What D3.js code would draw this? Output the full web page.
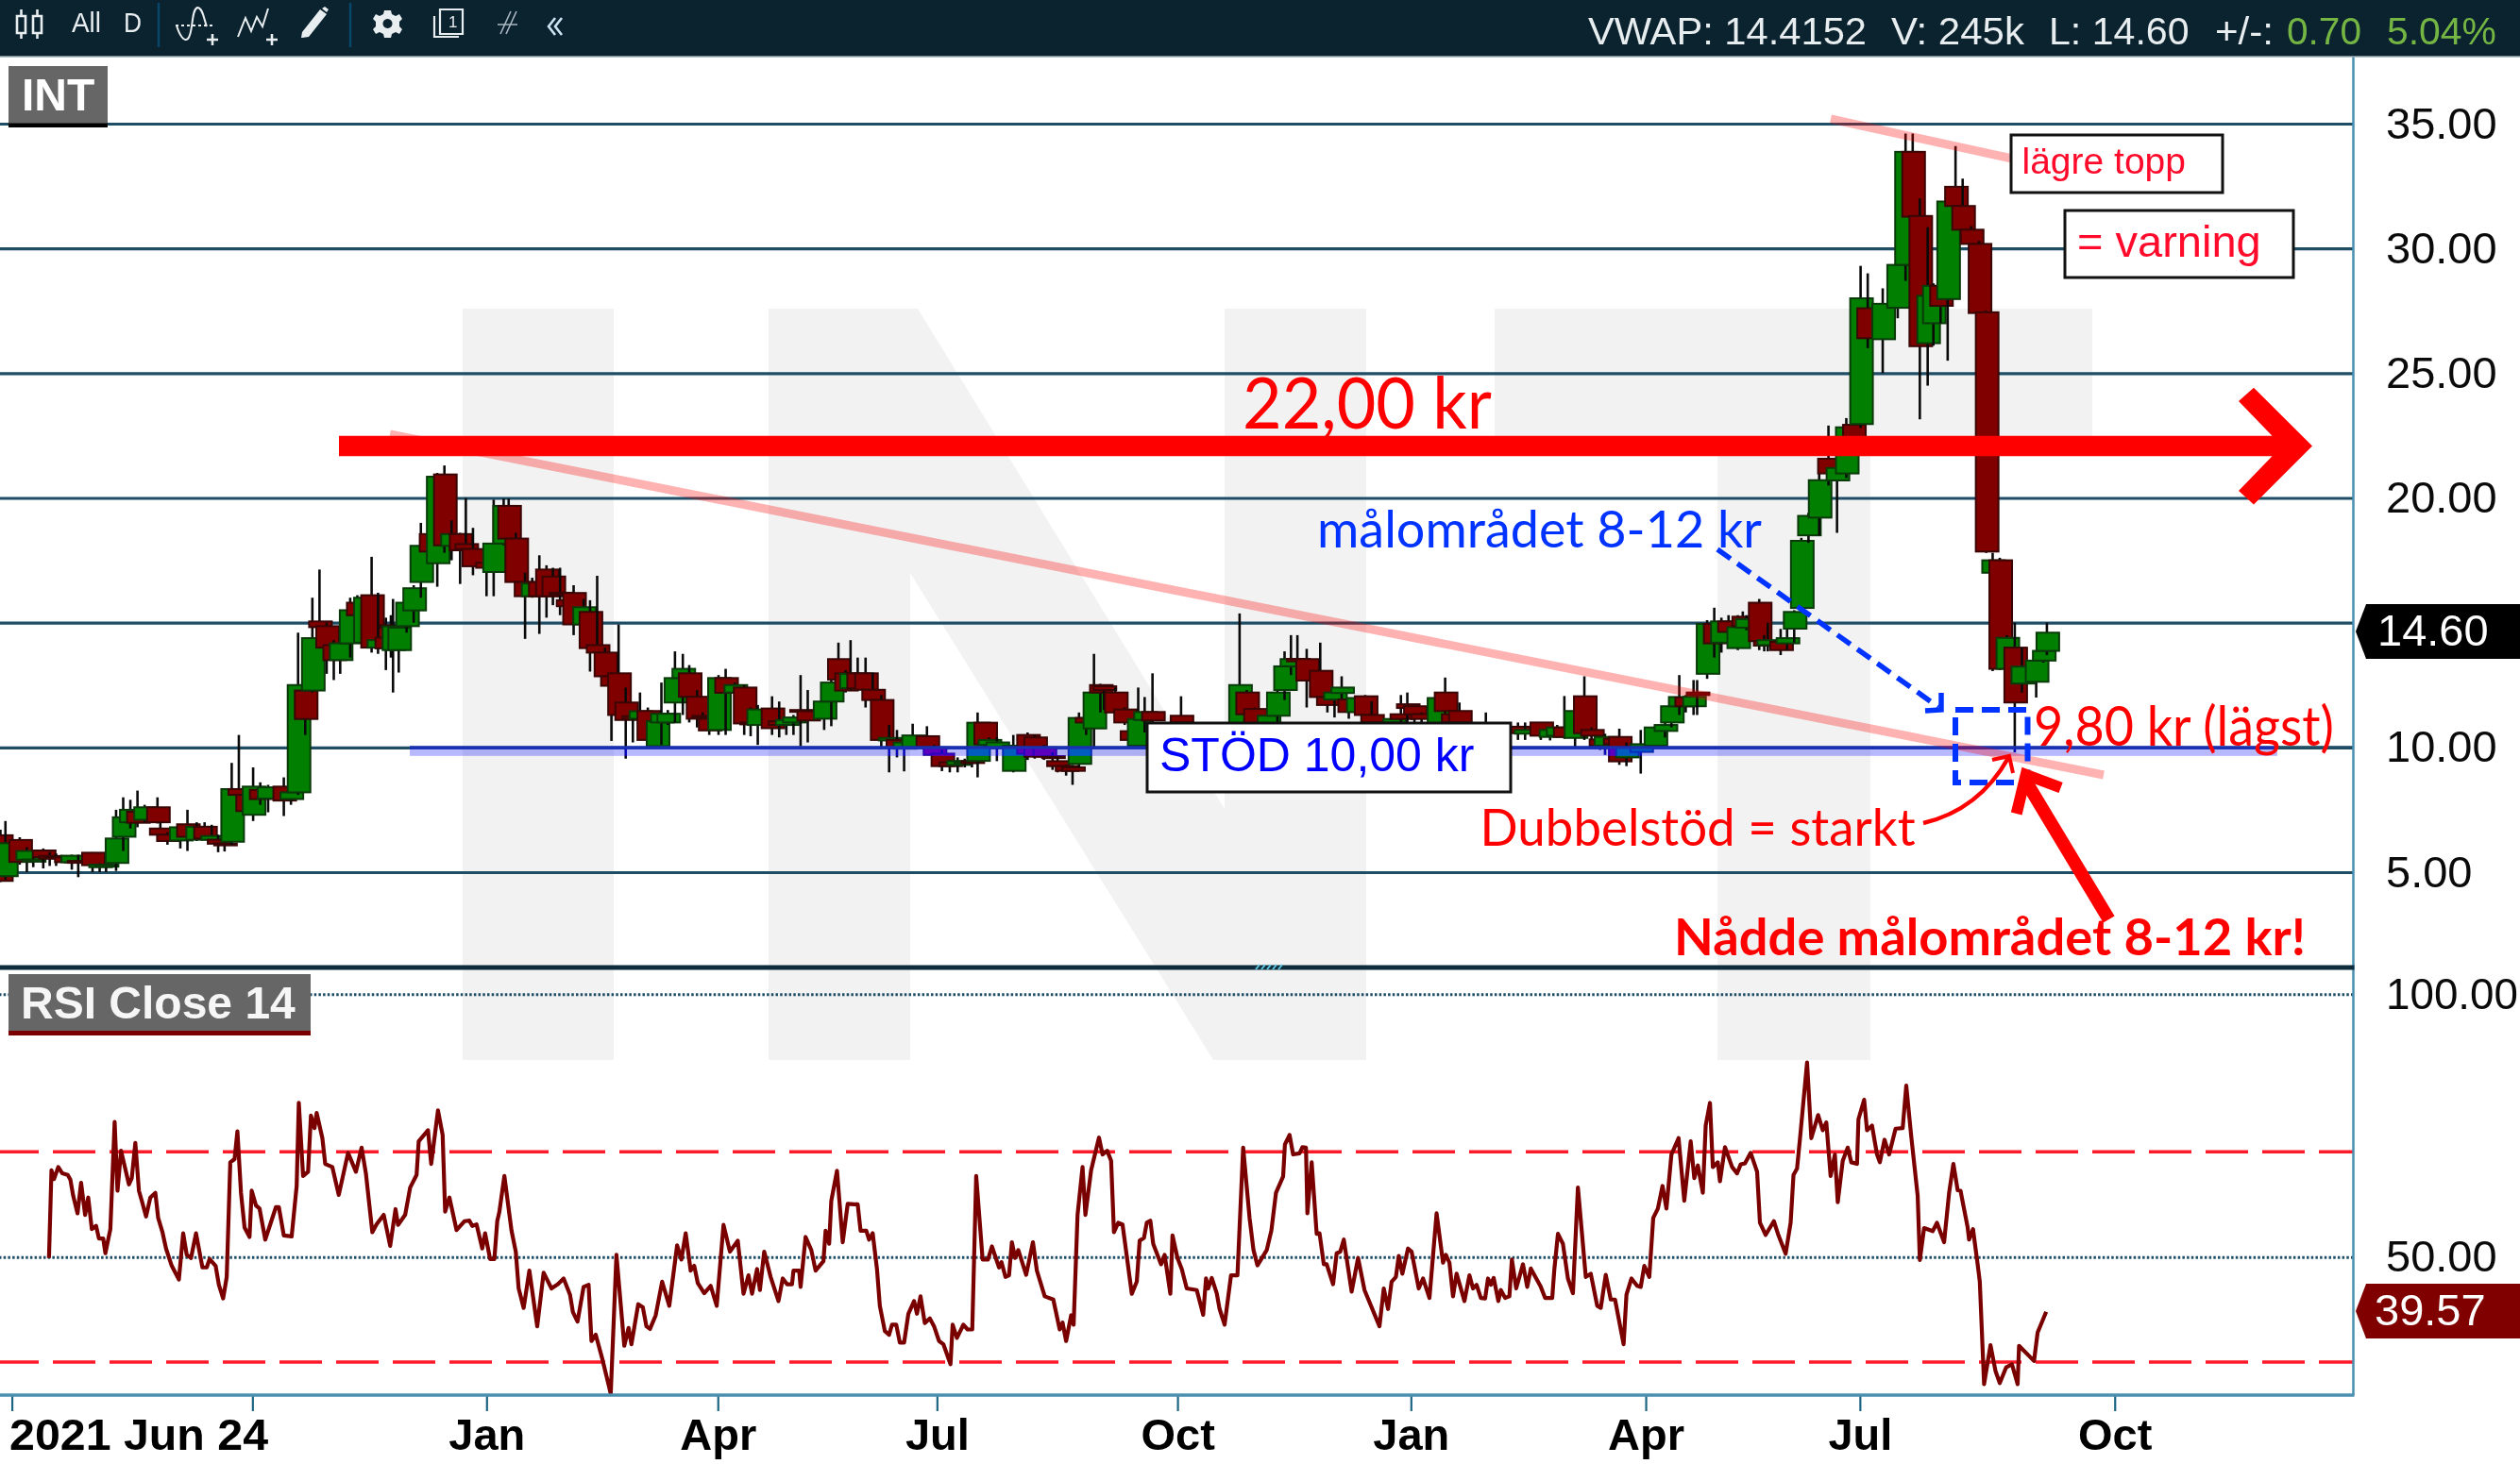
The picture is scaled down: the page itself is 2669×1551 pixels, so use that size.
<!DOCTYPE html>
<html><head><meta charset="utf-8">
<script src="https://cdn.jsdelivr.net/npm/d3@7"></script>
<style>
html,body{margin:0;padding:0;background:#fff;overflow:hidden}
svg{display:block;isolation:isolate}
text{font-family:"Liberation Sans",Arial,sans-serif}
.cal{font-family:Lato,"Open Sans",sans-serif}
</style></head><body>
<svg id="c" width="2669" height="1551" viewBox="0 0 2669 1551"></svg>
<script>
// ---- data ----
const priceTicks=[35,30,25,20,15,10,5];
const rsiLabelTicks=[100,50];
const rsiDashTicks=[70,30];
const xTickSlots=[1,34.7,67.5,99.9,130.6,164.3,197,229.9,259.9,295.6];
const xTickLabels=["2021 Jun 24","","Jan","Apr","Jul","Oct","Jan","Apr","Jul","Oct"];
const lastPrice=14.60, lastRsi=39.57, supportLevel=10;

const candleSlots=[
-0.6,0.1,2.1,3.1,4,5.4,6.3,7.2,8.5,9.4,
10.3,12.3,13.3,14.2,15.6,16.6,17.6,18.6,19.6,21.4,
21.8,22.8,24.6,25.6,26.9,28,29,29.9,30.8,31.8,
32.8,33.9,34.8,35.8,36.9,39.1,40.1,41.1,42.1,43.1,
44.1,45.1,46.1,47,48.4,49.4,50.4,51.4,52.3,53.4,
54.1,54.4,55.2,56.3,57.3,58.3,59.6,60.6,61.6,62.6,
63.8,64.6,65.6,67.5,68.5,69.9,70.6,71.6,72.9,73.9,
74.9,75.9,76.8,77.8,78.8,79.7,81.1,82,83,84.1,
85,86,87,88,89,90.1,91.4,92,92.9,93.9,
95,95.9,97,97.8,98.7,100,101,102.3,103.6,104.5,
105.5,107.5,108.5,109.5,110.5,111.5,112.5,114.8,115.8,116.8,
117.8,118.5,119.5,120.6,121.6,122.8,123.9,125,126,127.2,
129.2,130.2,131.3,132.4,133.5,134.5,135.5,136.3,137.3,137.9,
139,141.3,143.3,144.3,145.6,146.8,147.5,148.7,149.6,150.5,
151.5,152.6,153.5,154,155.6,156.9,157.8,158.8,159.7,160.8,
164.8,167,169,171,173,174,175.1,177,178.3,179.3,
180.2,181.1,182.4,184.3,185.3,186.3,187.3,188.3,189.5,190.6,
191.5,194.6,195.6,196.5,197.5,198.5,200.8,201.8,202.8,203.8,
206,207.5,210,212,213,215.2,216.5,217.5,218.5,220,
221.3,222.3,223.5,224.2,225.5,226.2,227.2,229.2,231.2,232.6,
233.5,234.6,235.5,236.6,237.1,238.5,239.5,240.5,241.5,242.8,
243.5,244,245.8,246.5,247,248.8,249.7,250.7,251.7,252.7,
254.2,255.5,256.7,258,259,260,261,263.1,265.2,266.3,
267.3,268.3,269.4,270.2,271.2,272.2,273.3,274.3,275.5,276.6,
277.6,278.5,279.5,280.5,281.6,282.6,284.6,285.6,286.1];
const candleOpen=[
6.48,4.84,6.29,5.5,5.42,5.87,5.65,5.62,5.6,5.4,
5.45,5.78,5.2,5.22,5.37,6.42,7.0,7.42,7.1,7.6,
6.75,6.5,6.27,6.92,6.3,6.82,6.3,6.3,6.15,6.22,
8.33,8.1,7.3,8.3,7.95,8.43,7.93,8.2,12.28,12.28,
15.05,14.86,14.1,13.5,14.17,15.8,14.2,16.1,14.0,14.4,
14.9,13.9,13.9,14.86,15.49,16.63,18.55,17.38,20.94,18.08,
18.55,18.15,17.95,17.4,17.03,18.17,19.68,18.37,16.63,16.06,
16.63,17.13,16.85,16.2,15.9,16.19,14.93,15.43,14.1,13.8,
12.85,12.97,11.8,11.25,11.15,11.46,10.05,11.0,11.0,11.8,
12.78,12.97,12.03,11.26,11.15,10.7,12.78,12.2,12.4,11.0,
10.9,11.56,11.05,10.9,11.0,11.5,11.45,11.15,11.84,13.54,
12.97,12.37,12.97,12.97,12.31,11.9,10.28,10.3,9.95,10.0,
10.45,10.0,9.75,9.4,9.3,9.4,9.45,9.46,10.99,10.1,
10.0,9.06,10.5,10.4,10.0,9.65,9.45,9.25,9.2,9.34,
11.18,10.76,12.5,12.45,12.2,11.52,10.65,10.07,11.1,11.42,
11.27,10.8,10.5,10.7,10.2,12.2,11.54,10.5,11.27,12.3,
13.25,13.55,13.54,13.07,12.02,11.92,12.18,11.92,11.42,12.05,
11.3,11.0,11.33,11.73,11.65,11.33,10.9,12.2,11.33,11.46,
10.9,10.9,10.7,10.83,10.55,11.0,10.42,10.47,10.8,10.38,
12.05,10.7,10.32,10.07,10.35,10.42,9.6,9.82,10.07,10.66,
11.0,11.65,12.0,11.65,12.2,12.95,14.95,14.2,15.05,13.98,
15.24,14.8,15.8,14.26,14.1,14.23,14.17,14.76,15.59,18.5,
19.21,21.57,20.7,20.98,22.93,22.96,27.6,26.36,27.62,29.34,
33.87,31.3,26.2,27.0,28.5,27.97,32.47,31.7,30.75,30.18,
27.44,17.0,17.5,13.15,14.0,12.56,12.63,13.48,13.87];
const candleClose=[
4.65,6.16,5.41,5.85,5.5,5.6,5.55,5.58,5.4,5.66,
5.42,5.28,5.3,5.3,6.35,7.2,7.5,6.98,7.6,7.0,
6.5,6.25,6.8,6.42,6.82,6.35,6.45,6.14,6.1,8.33,
8.1,7.45,8.43,7.93,8.4,7.87,8.2,12.5,11.14,14.38,
14.82,14.0,13.5,14.17,15.5,15.3,16.0,14.0,14.3,13.97,
14.8,14.85,14.8,15.8,16.38,18.08,17.85,20.85,18.1,18.55,
17.9,17.95,17.26,17.2,18.17,19.68,18.37,16.63,16.06,16.57,
16.06,16.06,16.06,16.15,15.66,14.93,15.62,13.98,13.8,12.85,
12.47,11.3,11.1,11.15,11.45,10.3,11.05,11.35,11.35,12.78,
13.15,12.03,11.15,11.2,10.68,12.78,12.19,12.5,10.96,10.95,
11.52,10.77,10.9,11.1,11.2,11.45,11.08,11.84,12.6,12.72,
12.28,12.95,12.37,12.31,11.9,10.3,10.38,10.0,10.2,10.48,
10.0,9.7,9.25,9.25,9.45,9.45,9.42,10.99,10.13,10.3,
10.2,10.07,9.75,9.63,9.63,9.58,9.25,9.06,9.06,11.18,
11.0,12.2,12.2,12.3,11.4,11.0,10.3,11.14,11.42,11.08,
11.0,10.5,10.7,10.5,12.5,11.33,10.9,11.27,12.2,13.25,
13.54,13.45,12.68,12.02,11.7,12.2,12.4,11.42,11.98,11.3,
11.0,11.14,11.14,11.58,11.33,11.14,11.98,11.46,11.0,11.0,
10.7,10.7,10.6,10.57,10.7,10.47,10.7,10.8,10.42,11.46,
10.57,10.47,10.07,10.42,10.13,9.44,10.0,10.13,10.8,10.9,
11.65,12.02,11.65,12.03,12.1,14.95,14.17,15.05,14.63,14.82,
14.86,15.14,14.26,14.08,14.3,13.9,14.38,15.43,18.28,19.28,
20.71,20.98,21.2,22.83,22.0,28.0,26.4,27.78,29.34,33.87,
31.27,26.08,28.1,28.5,27.7,31.88,31.7,30.75,30.18,27.41,
17.85,17.5,13.15,14.39,11.8,13.24,13.48,13.87,14.6];
const candleHigh=[
6.7,7.05,6.4,6.0,5.7,5.95,5.8,5.75,5.65,5.7,
5.7,5.8,5.35,5.4,7.5,8.0,7.9,8.27,7.7,8.0,
7.0,6.6,6.9,7.5,7.0,7.0,6.9,6.5,6.3,9.38,
10.5,8.3,9.2,8.6,8.5,8.8,8.4,14.6,12.4,16.0,
17.13,15.0,14.3,14.7,16.0,16.1,16.1,17.64,16.2,15.2,
15.3,15.95,15.0,16.0,16.5,19.0,18.9,21.0,21.3,19.1,
18.6,20.0,18.8,17.6,19.93,19.97,19.97,18.6,17.0,16.8,
17.7,17.3,17.2,17.2,16.2,16.5,15.95,15.9,16.88,14.0,
13.0,14.93,12.4,11.4,12.2,11.6,11.2,12.6,11.5,13.85,
13.75,13.3,12.3,11.4,11.3,12.9,13.15,12.6,12.5,11.6,
11.7,12.05,11.84,11.2,11.3,12.9,12.3,12.0,12.7,14.2,
13.1,14.3,13.6,13.6,13.0,12.1,10.9,10.7,10.3,10.95,
10.85,10.1,9.9,9.5,9.6,9.55,9.55,11.4,11.0,10.4,
10.4,10.5,10.6,10.5,10.1,9.8,9.6,9.3,9.3,11.4,
11.3,13.75,12.55,12.5,12.4,11.6,10.9,12.4,12.02,12.97,
12.05,10.9,10.8,10.8,15.37,12.3,11.6,11.3,12.4,13.85,
14.5,14.5,13.95,14.2,12.1,12.3,12.85,12.0,12.05,12.1,
11.85,11.2,12.1,12.2,11.7,11.4,12.2,12.8,11.4,11.8,
11.0,11.4,10.9,11.0,11.0,11.0,10.8,10.9,12.06,11.5,
12.85,10.8,10.4,10.55,10.4,10.75,10.2,10.7,10.85,11.0,
12.0,12.9,12.1,12.7,12.7,15.1,15.6,15.2,15.3,15.3,
15.45,15.3,15.95,14.5,15.0,14.75,14.8,15.5,18.4,19.4,
21.0,22.9,21.6,23.2,23.2,29.3,29.0,28.4,29.4,34.6,
34.6,32.0,30.85,28.6,28.7,32.0,34.1,32.8,30.9,30.3,
27.5,17.8,17.6,14.5,15.0,14.0,13.8,14.0,15.0];
const candleLow=[
4.6,4.7,5.3,5.0,5.2,5.15,5.25,5.25,5.35,5.1,
4.8,5.0,5.0,5.0,5.05,5.85,6.75,6.8,7.0,6.95,
6.45,6.1,5.95,5.85,6.25,6.3,6.3,5.8,5.83,6.1,
7.9,7.4,7.05,7.7,7.4,7.25,7.7,8.1,10.5,12.2,
14.7,12.95,12.7,12.95,13.6,15.2,14.1,13.8,13.75,13.1,
13.6,12.2,13.0,14.6,15.0,16.0,17.7,16.44,17.8,17.5,
16.55,17.55,16.9,16.06,16.06,18.1,18.2,16.1,14.35,16.0,
14.55,15.2,15.7,15.3,15.3,14.5,14.9,13.04,13.7,12.7,
10.26,11.2,9.55,10.2,11.1,10.2,10.05,10.1,10.9,11.0,
11.3,11.0,10.8,10.8,10.5,10.5,10.5,11.7,10.5,10.45,
10.1,10.5,10.4,10.5,10.5,10.05,10.2,10.7,10.85,12.6,
12.2,12.3,12.3,11.6,11.8,10.0,9.0,9.6,9.04,10.0,
9.9,9.6,9.05,9.0,9.0,9.2,9.2,8.8,10.0,10.0,
9.45,9.0,9.5,9.55,9.5,9.1,9.0,8.87,8.5,9.2,
10.5,10.0,11.4,11.5,11.2,10.9,10.2,9.95,10.6,10.8,
10.5,10.4,10.3,10.4,10.0,11.0,10.5,10.4,10.8,11.9,
12.9,12.9,11.6,12.0,11.4,11.2,11.9,11.15,11.3,10.9,
10.6,10.6,10.7,11.0,10.9,10.9,10.7,11.2,10.9,10.7,
10.4,10.3,10.4,10.3,10.3,10.3,10.28,10.4,10.35,9.98,
10.3,10.2,9.9,9.7,9.6,9.3,9.25,8.95,10.0,10.4,
10.8,11.3,11.4,11.3,11.3,12.75,13.6,13.8,14.4,13.9,
14.8,14.7,13.9,13.85,13.85,13.7,13.9,14.2,15.5,18.2,
18.5,20.5,18.6,20.8,21.8,22.8,26.0,25.0,27.2,28.7,
30.0,23.15,24.5,26.1,27.0,25.5,31.5,30.6,29.8,27.3,
17.8,13.06,13.1,12.76,9.8,12.2,12.0,13.4,13.7];

const rsiSlots=[
6.2,6.55,6.9,7.5,8.07,8.83,9.2,9.6,10.2,10.7,11.26,11.7,12.2,12.8,13.2,13.8,14.1,14.8,15.4,15.8,
16.3,17.4,17.8,18.3,18.8,19.2,19.8,20.4,21.1,21.5,22.1,22.6,23.4,24.4,25,25.5,26.1,26.8,27.7,28.3,
28.7,29.55,30,30.6,31.1,31.6,32.2,32.6,33.1,33.6,34.3,34.6,35.2,35.7,36.5,38,38.4,39.1,40.2,40.9,
41.2,41.8,42.5,42.9,43.4,43.7,44.5,44.9,45.9,46.8,48.1,49.2,50,50.6,51.5,52.1,53.1,54,54.75,55.1,
56.1,56.8,57.7,58,59.3,59.75,60.7,61.35,61.7,62.3,63.3,64.4,65.1,65.5,66.1,66.9,67.3,68,68.6,69,
69.3,70,71,71.6,72,72.7,73.5,74.6,75.5,76.6,77.5,78.3,79.2,79.6,80.25,81.1,81.8,82.2,82.8,83.7,
84.9,85.7,86.8,87.4,87.8,88.75,89.4,89.9,90.4,91.2,92.1,93.1,94.2,94.8,95.4,96.1,96.6,97.1,98,98.9,
99.75,100.7,101.6,102.7,103.5,104.2,104.7,105.4,105.8,106.4,107.3,108.4,109,109.6,110.3,110.5,111.3,111.5,112.2,113,
113.6,114.7,115,115.5,115.8,116.6,117.4,118.1,
119,119.5,119.9,120.7,121.1,121.6,122.2,122.6,123.3,123.9,124.3,124.9,125.4,126,126.6,127.4,127.8,128.3,128.9,129.6,
130.2,130.9,131.5,132.5,132.8,133.4,134.3,134.9,135.55,136.1,137,137.75,138.3,139.3,139.65,140.2,140.7,141.1,141.55,142,
143.1,144.05,144.6,145.7,146.9,147.8,148.2,148.7,149.4,149.75,150.3,151,151.4,152.2,153.3,153.8,154.45,155,155.4,156,
156.6,157.9,158.6,159,159.6,160,160.5,160.9,162,162.5,163.3,163.6,164.3,164.9,165.6,167,167.9,168.3,168.6,169.1,
169.8,170.2,170.9,171.8,172.7,173.5,174.4,174.95,175.5,176.8,177.45,178.1,179.1,179.35,180,180.5,181.4,181.8,182.3,182.5,
183.1,183.8,184.2,184.8,185.2,186.1,186.6,187.1,187.6,188.7,189.6,190.5,192.6,193.2,193.8,194.3,194.9,195.3,195.8,196.6,
197.1,198.1,198.7,199.6,200.6,201.5,201.9,202.4,202.9,203.4,204,204.5,205.2,205.7,206.2,206.8,207.4,207.8,208.2,208.6,
209.25,209.6,210.2,210.8,211.15,211.75,212.7,213.3,213.8,215.2,215.8,216.8,217.1,217.6,218.3,219,219.7,220.4,221.5,222.2,
223.1,223.6,224.3,225,225.6,226.8,227.2,227.9,228.7,229.2,229.7,230.4,230.95,231.6,232.25,232.8,233.5,234.5,
235.3,236.2,236.7,237.2,237.9,238.3,238.9,239.3,240,240.3,241,242,242.7,243.2,243.8,244.6,245.5,245.9,246.7,247.85,
248.5,249.5,250.2,250.6,251.1,251.6,252.5,253.1,254.05,254.7,255.2,255.8,256.4,256.8,257.5,258.2,258.7,259.5,259.7,260.5,
260.9,261.6,262.3,262.7,263.35,264,264.9,265.9,266.4,267.1,268,268.3,268.9,270.1,270.7,271.7,272.4,273,273.6,274,
275,275.2,275.75,276.4,276.7,277.3,278.2,278.9,279.5,280.4,281.2,282,282.2,284.3,284.8,286];
const rsiValues=[
49.8,66.5,64.8,67.1,65.9,65.6,64.7,61.6,58.3,64.1,58,61.3,55.3,55.9,53.5,53.5,50.7,55.3,75.7,62.6,
70.2,63.8,65,71.7,62.6,60.7,57.7,61.3,62.2,57.4,54.7,51.6,48.3,45.7,54.5,50.4,49.8,54.5,48,48,
49.6,48.3,44.7,42.1,46.2,68,68.6,73.9,62.2,55.6,53.8,62.6,59.8,59.2,53.3,59.5,59.5,54.1,53.9,63.5,
79.3,65.4,66.2,76.9,74.5,77.4,72.6,67.7,67.1,61.8,69.8,66.2,70.8,65.9,54.7,56.2,58,52.1,59.1,56.1,
58,63.2,65.6,72,74.1,67.7,77.9,73.2,58.6,61.3,55.1,56.8,56.9,55.9,56.2,51.6,54.5,49.6,49.6,56.8,
58.6,65.4,55,51,44,40.3,47.4,36.8,47,44,44.8,45.9,42.8,39.5,37.7,44.3,44.7,34,35.2,30.7,
24,50.4,33.1,36.5,33.4,41,40.4,36.8,36.3,38.9,45.3,40.7,52.2,49.5,54.5,47.4,48.3,45,43.1,44.5,
40.7,56.1,51,53.1,43,46.5,43,47.7,43.7,51,46.2,41.6,45.9,44.8,44.8,47.4,47.4,44.3,53.8,51.3,
47.4,49.2,55,52.5,60.7,66.4,52.8,60.1,
60,60,55,55,53.3,54.5,47.7,40.7,35.9,35.2,37.1,37.1,33.7,33.7,39.2,41.6,39.2,42.5,37.4,38.3,
36.8,34,33.4,29.6,37.1,34.6,37.1,36.2,36.2,65.4,49.5,49.5,52,48,49,46.2,46.5,52.8,49.8,51.3,
46.6,52.8,47.4,42.5,41.9,36.2,37.5,34,38.9,37.1,58,67.1,58,66.5,72.7,69.5,70.2,68.3,54.7,56.5,
56.2,43,45.3,53.1,53.6,56.5,56.9,52.5,48.6,50.4,43,54.1,49.8,47.7,44,43.7,39,45.9,44,46,
43.1,40.1,37.1,46.5,46.5,70.8,57.4,51.3,48.4,51.3,55,62.2,65.3,71.4,73.2,69.5,69.7,70.9,70.8,58.3,
68,54.4,54.5,48.6,48.6,44.8,50.7,51,53.3,43.4,49.8,43.7,36.8,44,40.1,45.3,46.2,50.2,46.8,51.6,
51,44,45.9,42.2,58.3,48.9,50.4,48.9,42.5,46.8,44,41.6,46.5,44,44.7,42.2,42.1,45.9,44.7,46,
41.6,43.7,42.2,42.5,49.5,44,48.6,44.3,47.8,44.3,42.2,42.2,47.7,54.4,52.5,45.9,43.1,63.2,46.2,46.8,
40.7,40.3,46.6,41.9,41.9,33.4,42.8,45.9,44.5,44.3,48.3,46.2,57.4,59.2,63.5,59.2,69.5,72.6,
60.7,72,65,67.4,62.2,75,79.3,67.1,68,64.4,70.9,67.1,65.9,67.6,67.8,69.8,66.2,56.5,54.2,56.8,
54.1,50.6,56.5,65.6,66.8,73.8,87,72.6,77,74.1,75.6,65.4,69.5,60.4,68.3,70.8,68,67.7,76.2,79.9,
74.1,75,69.5,68,72.3,69.5,74.4,74.5,82.6,72.9,61.6,49.4,55.5,54.9,56.5,52.8,62.2,67.7,62.7,62.6,
55.6,53.3,55.3,48.6,45.3,25.8,33.2,28.3,26,29,29.6,25.8,33.1,30.2,35.6,39.57];

// ---- scales ----
const plotRight=2492.5, axisY=1478;
const x=d3.scaleLinear().domain([0,1]).range([5,12.56]);
const yP=d3.scaleLinear().domain([35,5]).range([131,924]);
const yR=d3.scaleLinear().domain([100,30]).range([1053.2,1443]);

const svg=d3.select("#c");
svg.append("rect").attr("width",2669).attr("height",1551).attr("fill","#fff");

// watermark
const wm=svg.append("g").attr("fill","#f2f2f2");
["M490,327H650V1123H490Z",
 "M814,327H972L1297,857V327H1447V1123H1285L964,607V1123H814Z",
 "M1583,327H2216V470H1981V1123H1819V470H1583Z"].forEach(d=>wm.append("path").attr("d",d));

// price grid
const grid=svg.append("g").attr("transform",`translate(${plotRight},0)`)
 .call(d3.axisLeft(yP).tickValues(priceTicks).tickSize(plotRight).tickFormat(""));
grid.select(".domain").remove();
grid.selectAll("text").remove();
grid.selectAll("line").attr("stroke","#1f4d66").attr("stroke-width",3.2);

// rsi grid
const rg1=svg.append("g").attr("transform",`translate(${plotRight},0)`)
 .call(d3.axisLeft(yR).tickValues(rsiLabelTicks).tickSize(plotRight).tickFormat(""));
rg1.select(".domain").remove();
rg1.selectAll("text").remove();
rg1.selectAll("line").attr("stroke","#1f4d66").attr("stroke-width",3).attr("stroke-dasharray","2.5 2.2");
svg.append("g").selectAll("line").data(rsiDashTicks).join("line")
 .attr("x1",0).attr("x2",plotRight).attr("y1",d=>yR(d)).attr("y2",d=>yR(d))
 .attr("stroke","#ff1a2a").attr("stroke-width",3.5).attr("stroke-dasharray","45 15").attr("stroke-dashoffset",4);

// candles
const candles=candleSlots.map((s,i)=>({s,o:candleOpen[i],c:candleClose[i],h:candleHigh[i],l:candleLow[i]}));
svg.append("clipPath").attr("id","pc").append("rect").attr("x",0).attr("y",60).attr("width",plotRight).attr("height",965);
const cg=svg.append("g").attr("clip-path","url(#pc)");
const cs=cg.selectAll("g").data(candles).join("g");
cs.append("line").attr("x1",d=>x(d.s)).attr("x2",d=>x(d.s)).attr("y1",d=>yP(d.h)).attr("y2",d=>yP(d.l))
 .attr("stroke","#0a0a0a").attr("stroke-width",2.6);
cs.append("rect").attr("x",d=>x(d.s)-11).attr("width",24)
 .attr("y",d=>yP(Math.max(d.o,d.c))).attr("height",d=>Math.max(2,Math.abs(yP(d.o)-yP(d.c))))
 .attr("fill",d=>d.c>=d.o?"#007f00":"#800000")
 .attr("stroke",d=>d.c>=d.o?"#0a3a0a":"#3a0505").attr("stroke-width",2);

// support line overlay
const sy=yP(supportLevel);
const sx0=434, sx1=2412;
svg.append("rect").attr("x",sx0).attr("y",sy).attr("width",sx1-sx0).attr("height",9).attr("fill","#0000be").style("mix-blend-mode","lighten");
svg.append("rect").attr("x",sx0).attr("y",sy).attr("width",sx1-sx0).attr("height",9).attr("fill","#b8b8ff").style("mix-blend-mode","multiply");
svg.append("line").attr("x1",sx0).attr("x2",sx1).attr("y1",sy).attr("y2",sy).attr("stroke","#1a30b0").attr("stroke-width",3.4);
svg.append("line").attr("x1",sx1).attr("x2",plotRight).attr("y1",sy).attr("y2",sy).attr("stroke","#1f4d66").attr("stroke-width",3.2);

// trend lines (pale red)
[[413,460,2228,821],[1939,126,2131,168]].forEach(a=>{
 svg.append("line").attr("x1",a[0]).attr("y1",a[1]).attr("x2",a[2]).attr("y2",a[3])
  .attr("stroke","#ff0000").attr("stroke-opacity",.3).attr("stroke-width",9);
});

// RSI line
svg.append("path").datum(rsiSlots.map((s,i)=>[s,rsiValues[i]]))
 .attr("d",d3.line().x(d=>x(d[0])).y(d=>yR(d[1])))
 .attr("fill","none").attr("stroke","#7a0000").attr("stroke-width",4.2).attr("stroke-linejoin","round");

// frame
svg.append("line").attr("x1",plotRight).attr("x2",plotRight).attr("y1",60).attr("y2",axisY).attr("stroke","#4a8fb0").attr("stroke-width",2.5);
svg.append("line").attr("x1",0).attr("x2",plotRight+1).attr("y1",1025).attr("y2",1025).attr("stroke","#0d2c3c").attr("stroke-width",5);
svg.append("path").attr("d","M1330,1027l4,-5M1336,1027l4,-5M1342,1027l4,-5M1348,1027l4,-5M1354,1027l4,-5").attr("stroke","#5cc7e0").attr("stroke-width",2);

// x axis
const xa=svg.append("g").attr("transform",`translate(0,${axisY})`)
 .call(d3.axisBottom(x).tickValues(xTickSlots).tickSize(17).tickFormat((d,i)=>xTickLabels[i]));
xa.select(".domain").remove();
svg.append("line").attr("x1",0).attr("x2",plotRight+1).attr("y1",axisY).attr("y2",axisY).attr("stroke","#4a8fb0").attr("stroke-width",3.5);
xa.selectAll("line").attr("stroke","#1d6585").attr("stroke-width",2.2);
xa.selectAll("text").attr("y",58).attr("dy",0).attr("fill","#000")
 .style("font-family",'"Liberation Sans",Arial,sans-serif').style("font-size","47px").style("font-weight","700");
xa.selectAll("text").filter((d,i)=>i===0).attr("text-anchor","start").attr("x",-3)
 .attr("textLength",274).attr("lengthAdjust","spacingAndGlyphs");
xa.selectAll("text").filter((d,i)=>xTickLabels[i]==="").remove();

// y axes
const ya=svg.append("g").attr("transform",`translate(2527,0)`)
 .call(d3.axisRight(yP).tickValues(priceTicks).tickSize(0).tickPadding(0).tickFormat(d3.format(".2f")));
ya.select(".domain").remove();
ya.selectAll("text").filter(d=>d===15).remove(); // covered by the last-price tag in the reference
const ya2=svg.append("g").attr("transform",`translate(2527,0)`)
 .call(d3.axisRight(yR).tickValues(rsiLabelTicks).tickSize(0).tickPadding(0).tickFormat(d3.format(".2f")));
ya2.select(".domain").remove();
[ya,ya2].forEach(g=>g.selectAll("text").attr("fill","#0a0a0a").style("font-family",'"Liberation Sans",Arial,sans-serif').style("font-size","47px"));
ya2.selectAll("text").filter(d=>d===100).attr("textLength",140).attr("lengthAdjust","spacingAndGlyphs");

// value tags
function tag(val,y,fill,tx,by){
 svg.append("path").attr("d",`M2495,${y}L2506,${y-29}H2669V${y+29}H2506Z`).attr("fill",fill);
 svg.append("text").attr("x",tx).attr("y",by).attr("fill","#fff").attr("font-size",47).text(val.toFixed(2));
}
tag(lastPrice,669,"#000",2518,684);
tag(lastRsi,1389,"#800000",2515,1404);

// toolbar
svg.append("rect").attr("width",2669).attr("height",60).attr("fill","#0b222f");
svg.append("line").attr("x1",0).attr("x2",2669).attr("y1",60).attr("y2",60).attr("stroke","#9fb0b8").attr("stroke-width",1.5);
const tb=svg.append("g").attr("fill","none").attr("stroke","#e8edf0").attr("stroke-width",2.6);
tb.append("path").attr("d","M18,17h9v18h-9zM22.5,10v7M22.5,35v6M35,17h9v18h-9zM39.5,10v7M39.5,35v6");
tb.append("path").attr("stroke-width",2).attr("d","M186,27h3M192,27h3M198,27h3M204,27h3M210,27h3M216,27h3M222,27h3M187,27c3,10 8,18 12,14c6,-6 3,-30 10,-33c6,0 7,13 10,20");
tb.append("path").attr("d","M225,36v12M219,42h12");
tb.append("path").attr("stroke-width",2).attr("d","M252,39l8,-20l6,14l6,-15l6,10l6,-19");
tb.append("path").attr("d","M288,36v12M282,42h12");
tb.append("path").attr("fill","#e8edf0").attr("stroke","none").attr("d","M319,40l1,-6l19,-24l7,5l-19,24l-7,1zM341,9l3,-2l4,3l-2,3z");
tb.append("path").attr("fill","#e8edf0").attr("stroke","none").attr("fill-rule","evenodd")
 .attr("d","M407,11h7l1,4l4,2l4,-2l3,5l-3,3v5l3,3l-3,5l-4,-2l-4,2l-1,4h-7l-1,-4l-4,-2l-4,2l-3,-5l3,-3v-5l-3,-3l3,-5l4,2l4,-2zM410.5,20a5,5 0 1,0 .01,0z");
tb.append("path").attr("stroke-width",2.2).attr("d","M466,10h24v26h-24zM460,17v22h26");
tb.append("text").attr("x",475).attr("y",29).attr("fill","#e8edf0").attr("stroke","none").attr("font-size",17).text("1");
tb.append("path").attr("stroke-width",1.6).attr("stroke","#aab8c0").attr("d","M541,12l-11,24M547,12l-11,24M527,26h21");
tb.append("path").attr("stroke-width",2.6).attr("stroke","#cfe4f2").attr("d","M588,19l-7,9l7,9M595,19l-7,9l7,9");
tb.append("path").attr("stroke","#07486a").attr("stroke-width",2.5).attr("d","M168,3V50M371,3V50");
svg.append("text").attr("x",76).attr("y",34).attr("fill","#e8edf0").attr("font-size",29).attr("textLength",31).attr("lengthAdjust","spacingAndGlyphs").text("All");
svg.append("text").attr("x",131).attr("y",34).attr("fill","#e8edf0").attr("font-size",29).attr("textLength",19).attr("lengthAdjust","spacingAndGlyphs").text("D");

// header read-out
const headerTexts=["VWAP: 14.4152","V: 245k","L: 14.60","+/-:","0.70","5.04%"];
const headerColors=["#e8eef0","#e8eef0","#e8eef0","#e8eef0","#74b544","#74b544"];
[[1682,295],[2003,141],[2170,148.6],[2346,62],[2422,79],[2528,116]].forEach((p,i)=>
 svg.append("text").attr("x",p[0]).attr("y",46.5).attr("fill",headerColors[i]).attr("font-size",40)
  .attr("textLength",p[1]).attr("lengthAdjust","spacingAndGlyphs").text(headerTexts[i]));

// pane badges
svg.append("rect").attr("x",9).attr("y",70).attr("width",105).attr("height",65).attr("fill","#666");
svg.append("rect").attr("x",9).attr("y",130.5).attr("width",105).attr("height",4.5).attr("fill","#000");
svg.append("text").attr("x",23).attr("y",117).attr("fill","#fff").attr("font-size",48).attr("font-weight",700).text("INT");
svg.append("rect").attr("x",9).attr("y",1032).attr("width",320).attr("height",65).attr("fill","#666");
svg.append("rect").attr("x",9).attr("y",1092).attr("width",320).attr("height",5).attr("fill","#7a0000");
svg.append("text").attr("x",22).attr("y",1079).attr("fill","#f6f6f6").attr("font-size",48).attr("font-weight",700).text("RSI Close 14");

// annotation boxes
function box(x0,y0,w,h){svg.append("rect").attr("x",x0).attr("y",y0).attr("width",w).attr("height",h).attr("fill","#fff").attr("stroke","#111").attr("stroke-width",3);}
box(2130,143,224,61);
svg.append("text").attr("x",2141.5).attr("y",184).attr("fill","#ff0a2a").attr("font-size",39).text("lägre topp");
box(2187,223,242,71);
svg.append("text").attr("x",2200).attr("y",272).attr("fill","#ff0a2a").attr("font-size",47).text("= varning");
box(1215,766,385,73);
svg.append("text").attr("x",1228).attr("y",817).attr("fill","#0000ff").attr("font-size",50).text("STÖD 10,00 kr");

// big red arrow
svg.append("path").attr("fill","#ff0000")
 .attr("d","M359,461.7H2406.5L2371,425L2387,410.7L2449,472.5L2387,534.5L2371,520L2406.5,483.3H359Z");

// calibri-style annotations
function note(t,x0,by,fs,w,fill,bold){
 svg.append("text").attr("class","cal").attr("x",x0).attr("y",by).attr("font-size",fs).attr("fill",fill)
  .attr("font-weight",bold?700:400).attr("textLength",w).attr("lengthAdjust","spacingAndGlyphs").text(t);
}
note("22,00 kr",1316,454,76,264,"#ff0000");
note("målområdet 8-12 kr",1395,580,54,471,"#0033ff");
note("Dubbelstöd = starkt",1567.6,896,54,461,"#ff0000");
note("9,80 kr (lägst)",2154,790,58,318,"#ff0000");
note("Nådde målområdet 8-12 kr!",1773,1012,54,669,"#ff0000",true);

// blue dashed arrow and box
svg.append("path").attr("d","M1819,582L2053,749").attr("fill","none").attr("stroke","#0033ff").attr("stroke-width",5.5).attr("stroke-dasharray","17 9");
svg.append("path").attr("d","M2056,734L2056,752L2039,753").attr("fill","none").attr("stroke","#0033ff").attr("stroke-width",5.5);
svg.append("rect").attr("x",2071).attr("y",752).attr("width",76.5).attr("height",77).attr("fill","none")
 .attr("stroke","#0033ff").attr("stroke-width",6).attr("stroke-dasharray","19 9");

// thick red arrow
svg.append("path").attr("d","M2233.6,974L2147,830").attr("fill","none").attr("stroke","#ff0000").attr("stroke-width",14);
svg.append("path").attr("d","M2182.6,834.5L2145.7,820.7L2135.7,862").attr("fill","none").attr("stroke","#ff0000").attr("stroke-width",12).attr("stroke-linejoin","miter");

// curved thin arrow
svg.append("path").attr("d","M2037,872Q2096,858 2127,803").attr("fill","none").attr("stroke","#ff0000").attr("stroke-width",4.5);
svg.append("path").attr("d","M2110,805L2128,801L2132,819").attr("fill","none").attr("stroke","#ff0000").attr("stroke-width",4);
</script>
</body></html>
